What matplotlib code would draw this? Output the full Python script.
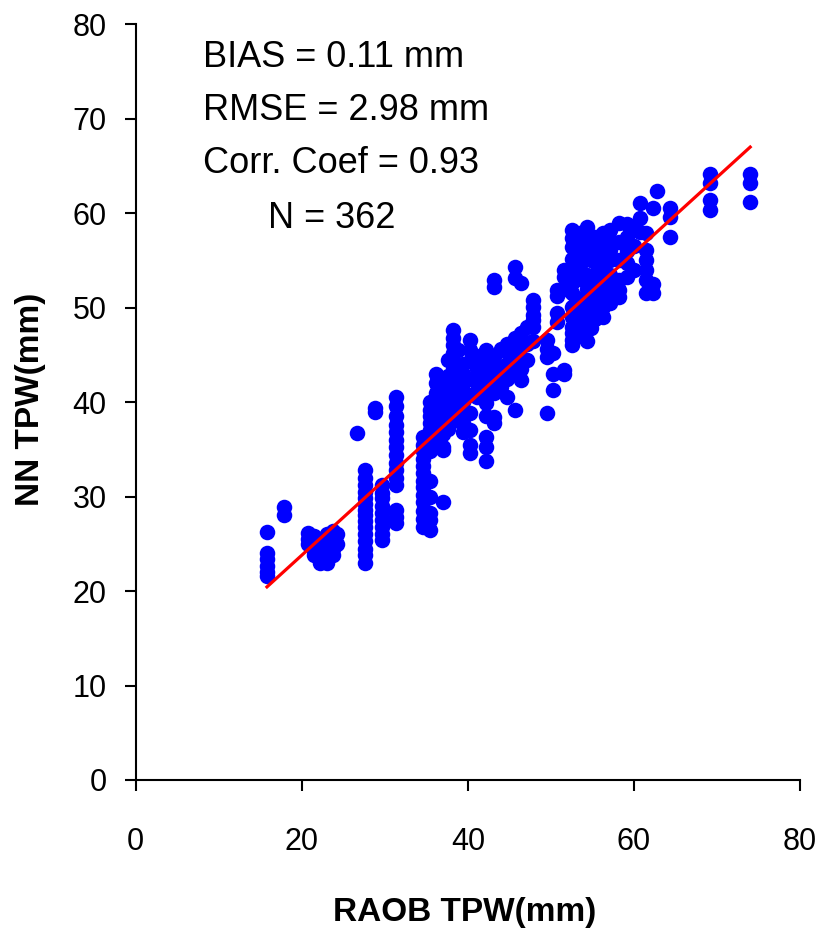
import matplotlib
matplotlib.use("Agg")
import matplotlib.pyplot as plt
import numpy as np

# RAOB TPW (x) and NN TPW (y), mm
raob_tpw = [
    15.8, 15.8, 15.8, 15.8, 15.8, 15.8,
    17.8, 17.8,
    20.8, 20.8, 20.8,
    21.5, 21.5, 21.5, 21.5,
    22.2, 22.2, 22.2, 22.2,
    23.0, 23.0, 23.0, 23.0, 23.0,
    23.8, 23.8, 23.8, 23.8,
    24.2, 24.2,
    26.6,
    27.6, 27.6, 27.6, 27.6, 27.6, 27.6, 27.6, 27.6, 27.6, 27.6, 27.6, 27.6, 27.6, 27.6, 27.6,
    28.8, 28.8,
    29.6, 29.6, 29.6, 29.6, 29.6, 29.6, 29.6, 29.6, 29.6,
    31.3, 31.3, 31.3, 31.3, 31.3, 31.3, 31.3, 31.3, 31.3, 31.3, 31.3, 31.3, 31.3, 31.3, 31.3,
    34.6, 34.6, 34.6, 34.6, 34.6, 34.6, 34.6, 34.6, 34.6, 34.6, 34.6, 34.6, 34.6,
    35.4, 35.4, 35.4, 35.4, 35.4, 35.4, 35.4, 35.4, 35.4, 35.4, 35.4, 35.4, 35.4,
    36.2, 36.2, 36.2, 36.2, 36.2, 36.2, 36.2, 36.2, 36.2,
    36.7, 36.7, 36.7, 36.7, 36.7,
    37.0, 37.0, 37.0, 37.0, 37.0, 37.0, 37.0, 37.0, 37.0,
    37.6, 37.6, 37.6, 37.6,
    38.2, 38.2, 38.2, 38.2, 38.2, 38.2, 38.2, 38.2, 38.2, 38.2, 38.2, 38.2,
    38.8, 38.8, 38.8, 38.8,
    39.4, 39.4, 39.4, 39.4, 39.4, 39.4, 39.4, 39.4,
    40.2, 40.2, 40.2, 40.2, 40.2, 40.2, 40.2, 40.2, 40.2,
    41.1, 41.1, 41.1, 41.1,
    41.7, 41.7, 41.7,
    42.2, 42.2, 42.2, 42.2, 42.2, 42.2, 42.2, 42.2, 42.2,
    43.2, 43.2, 43.2, 43.2, 43.2, 43.2, 43.2, 43.2,
    44.0, 44.0, 44.0,
    44.7, 44.7, 44.7, 44.7, 44.7,
    45.7, 45.7, 45.7, 45.7, 45.7, 45.7, 45.7,
    46.4, 46.4, 46.4, 46.4, 46.4, 46.4,
    47.1, 47.1, 47.1,
    47.8, 47.8, 47.8, 47.8, 47.8, 47.8,
    49.5, 49.5, 49.5, 49.5,
    50.2, 50.2, 50.2,
    50.7, 50.7, 50.7, 50.7,
    51.6, 51.6, 51.6, 51.6, 51.6,
    52.5, 52.5, 52.5, 52.5, 52.5, 52.5, 52.5, 52.5, 52.5, 52.5, 52.5, 52.5, 52.5,
    53.0, 53.0, 53.0, 53.0, 53.0, 53.0,
    53.5, 53.5, 53.5, 53.5, 53.5, 53.5, 53.5, 53.5,
    54.3, 54.3, 54.3, 54.3, 54.3, 54.3, 54.3, 54.3,
    54.8, 54.8, 54.8, 54.8, 54.8,
    55.3, 55.3, 55.3, 55.3, 55.3, 55.3, 55.3, 55.3,
    55.8, 55.8, 55.8, 55.8,
    56.3, 56.3, 56.3, 56.3, 56.3, 56.3, 56.3,
    56.8, 56.8, 56.8, 56.8,
    57.1, 57.1, 57.1, 57.1, 57.1, 57.1, 57.1,
    58.2, 58.2, 58.2, 58.2, 58.2, 58.2,
    59.2, 59.2, 59.2, 59.2, 59.2,
    60.0, 60.0, 60.0,
    60.7, 60.7, 60.7,
    61.4, 61.4, 61.4, 61.4, 61.4, 61.4,
    62.3, 62.3, 62.3,
    62.8,
    64.4, 64.4, 64.4,
    69.2, 69.2, 69.2, 69.2,
    74.0, 74.0, 74.0,
]
nn_tpw = [
    26.3, 24.0, 23.4, 22.7, 22.0, 21.6,
    28.9, 28.0,
    26.1, 25.5, 25.0,
    25.8, 24.8, 24.2, 23.8,
    25.5, 24.5, 23.8, 23.0,
    26.0, 25.0, 24.2, 23.5, 23.0,
    26.4, 25.5, 24.5, 23.8,
    26.0, 25.0,
    36.7,
    32.8, 32.0, 31.2, 30.5, 29.8, 29.2, 28.6, 28.0, 27.4, 26.8, 26.0, 25.3, 24.5, 23.8, 23.0,
    39.4, 39.0,
    31.2, 30.4, 29.8, 29.0, 28.3, 27.5, 26.8, 26.0, 25.4,
    40.5, 39.6, 38.5, 37.6, 36.8, 36.0, 35.2, 34.4, 33.6, 32.8, 32.0, 31.2, 28.6, 27.8, 27.2,
    36.3, 35.5, 34.8, 34.0, 33.2, 32.5, 31.7, 31.0, 30.2, 29.4, 28.5, 27.6, 26.8,
    40.0, 39.2, 38.5, 37.8, 37.0, 36.3, 35.6, 34.8, 31.7, 30.0, 28.3, 27.5, 26.5,
    43.0, 42.0, 41.0, 40.2, 39.4, 38.6, 37.5, 36.5, 35.5,
    42.5, 41.2, 39.8, 38.2, 36.2,
    41.6, 40.5, 39.5, 38.5, 37.6, 36.6, 35.2, 34.9, 29.4,
    44.5, 42.8, 40.0, 37.2,
    47.6, 46.8, 46.0, 45.2, 44.3, 43.5, 42.6, 41.8, 41.0, 40.2, 39.5, 38.0,
    45.5, 43.8, 41.5, 39.0,
    44.0, 43.0, 42.0, 41.0, 40.0, 39.0, 37.8, 36.8,
    46.6, 45.5, 44.4, 42.5, 40.8, 38.8, 37.0, 35.5, 34.6,
    44.4, 43.5, 42.0, 40.5,
    45.0, 43.2, 41.0,
    45.5, 44.6, 43.0, 41.5, 39.9, 38.5, 36.3, 35.2, 33.8,
    52.9, 52.2, 44.8, 43.8, 42.0, 41.0, 38.4, 37.8,
    45.6, 43.0, 41.6,
    46.2, 45.3, 44.0, 42.5, 40.5,
    54.3, 53.1, 46.8, 45.5, 44.4, 43.2, 39.2,
    52.6, 47.3, 46.0, 44.8, 43.5, 42.3,
    48.0, 46.2, 44.5,
    50.8, 50.1, 49.2, 48.7, 47.9, 46.5,
    46.6, 45.6, 44.8, 38.8,
    41.3, 43.0, 45.2,
    51.9, 51.2, 49.4, 48.5,
    54.0, 53.2, 52.0, 43.4, 43.0,
    58.2, 57.4, 56.4, 55.2, 54.3, 52.6, 51.5, 50.1, 49.0, 47.9, 47.3, 46.6, 46.0,
    57.0, 55.8, 53.8, 51.0, 49.5, 48.0,
    57.9, 56.8, 55.5, 54.5, 53.0, 50.5, 48.5, 47.0,
    58.5, 57.5, 56.0, 53.5, 52.0, 49.4, 48.0, 46.5,
    57.2, 55.0, 51.5, 50.2, 47.8,
    57.5, 55.8, 54.8, 52.9, 52.2, 51.0, 50.0, 48.8,
    56.8, 54.0, 51.8, 49.5,
    57.9, 56.1, 55.0, 54.3, 52.0, 50.1, 49.0,
    57.6, 55.6, 53.0, 51.4,
    58.2, 57.2, 56.1, 55.0, 53.5, 52.0, 50.5,
    59.0, 57.0, 55.0, 52.9, 51.9, 51.1,
    58.9, 57.5, 56.0, 54.7, 53.2,
    58.5, 56.5, 54.0,
    61.1, 59.5, 58.0,
    57.9, 56.1, 55.0, 54.0, 52.9, 51.5,
    60.6, 51.5, 52.5,
    62.4,
    60.6, 59.6, 57.5,
    64.2, 63.2, 61.4, 60.3,
    64.2, 63.2, 61.2,
]

# linear trend line drawn in the chart
fit_slope = 0.80
fit_intercept = 7.8

stats_lines = ["BIAS = 0.11 mm", "RMSE = 2.98 mm", "Corr. Coef = 0.93", "N = 362"]
yticks = [0, 10, 20, 30, 40, 50, 60, 70, 80]
xticks = [0, 20, 40, 60, 80]

font = ["Liberation Sans", "DejaVu Sans"]

fig = plt.figure(figsize=(8.18, 9.33), dpi=100)
ax = fig.add_axes([0.166, 0.164, 0.812, 0.810])

ax.scatter(raob_tpw, nn_tpw, s=125, c="#0000ff", marker="o", linewidths=0, zorder=2)

line_x = np.array([min(raob_tpw), max(raob_tpw)])
ax.plot(line_x, fit_slope * line_x + fit_intercept, color="#ff0000", lw=2.3, zorder=3)

ax.set_xlim(0, 80)
ax.set_ylim(0, 80)
ax.set_xticks(xticks)
ax.set_yticks(yticks)
for s in ["top", "right"]:
    ax.spines[s].set_visible(False)
for s in ["left", "bottom"]:
    ax.spines[s].set_linewidth(1.5)
ax.tick_params(axis="both", direction="out", length=8, width=1.5)
ax.tick_params(axis="x", pad=26)
ax.tick_params(axis="y", pad=13)
for lab in ax.get_xticklabels() + ax.get_yticklabels():
    lab.set_family(font)
    lab.set_fontsize(22)

ax.set_xlabel("RAOB TPW(mm)", family=font, fontsize=24, fontweight="bold")
ax.set_ylabel("NN TPW(mm)", family=font, fontsize=24, fontweight="bold")
ax.xaxis.set_label_coords(0.495, -0.155)
ax.yaxis.set_label_coords(-0.135, 0.503)

ypos = [0.956, 0.886, 0.816, 0.743]
xpos = [0.101, 0.101, 0.101, 0.199]
for txt, x, y in zip(stats_lines, xpos, ypos):
    ax.text(x, y, txt, transform=ax.transAxes, family=font, fontsize=26,
            ha="left", va="center")

fig.savefig("out.png", dpi=100)
